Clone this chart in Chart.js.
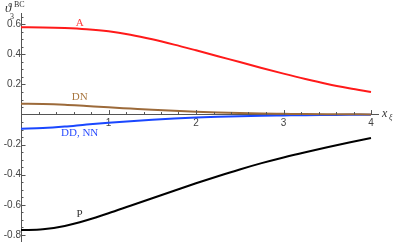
<!DOCTYPE html>
<html><head><meta charset="utf-8">
<script src="https://cdn.jsdelivr.net/npm/chart.js@4"></script>
<style>html,body{margin:0;padding:0;background:#fff;overflow:hidden}canvas{display:block}</style>
</head><body>
<canvas id="c" width="395" height="242"></canvas>
<script>
const xValues = [0,0.25,0.5,0.75,1,1.25,1.5,1.75,2,2.25,2.5,2.75,3,3.25,3.5,3.75,4];
const seriesA  = [0.580,0.579,0.575,0.567,0.553,0.530,0.500,0.465,0.427,0.388,0.349,0.310,0.272,0.236,0.203,0.175,0.150];
const seriesDN = [0.072,0.071,0.066,0.057,0.048,0.040,0.032,0.025,0.019,0.014,0.010,0.007,0.005,0.003,0.002,0.0015,0.001];
const seriesDD = [-0.094,-0.090,-0.080,-0.066,-0.054,-0.044,-0.035,-0.027,-0.020,-0.015,-0.011,-0.008,-0.006,-0.004,-0.003,-0.002,-0.0015];
const seriesP  = [-0.768,-0.762,-0.740,-0.702,-0.656,-0.606,-0.556,-0.506,-0.457,-0.410,-0.365,-0.323,-0.285,-0.250,-0.217,-0.186,-0.156];
const xTickValues = [1,2,3,4];
const yTickValues = [-0.8,-0.6,-0.4,-0.2,0.2,0.4,0.6];
const curveLabels = [
  {text:'A', x:0.67, y:0.608, color:'#ff4040'},
  {text:'DN', x:0.67, y:0.113, color:'#a8763f'},
  {text:'DD, NN', x:0.67, y:-0.126, color:'#2a4cff'},
  {text:'P', x:0.67, y:-0.66, color:'#333333'}
];

const pts = arr => xValues.map((x,i)=>({x:x,y:arr[i]}));
const ds = (arr,color) => ({data:pts(arr),borderColor:color,borderWidth:2,pointRadius:0,cubicInterpolationMode:'monotone',fill:false});

const extras = {
  id:'extras',
  afterDraw(chart){
    const ctx = chart.ctx, sx = chart.scales.x, sy = chart.scales.y;
    const x0 = sx.getPixelForValue(0), y0 = sy.getPixelForValue(0);
    ctx.save();
    ctx.strokeStyle = '#555'; ctx.lineWidth = 1;
    for (let v = 0.2; v <= 4.001; v += 0.2) {
      const major = Math.abs(v - Math.round(v)) < 1e-6;
      const px = Math.round(sx.getPixelForValue(v)) + 0.5;
      ctx.beginPath(); ctx.moveTo(px, y0); ctx.lineTo(px, y0 - (major ? 4.5 : 2.5)); ctx.stroke();
    }
    for (let k = -17; k <= 13; k++) {
      if (k === 0) continue;
      const v = k * 0.05;
      const major = k % 4 === 0;
      const py = Math.round(sy.getPixelForValue(v)) + 0.5;
      ctx.beginPath(); ctx.moveTo(x0, py); ctx.lineTo(x0 + (major ? 4.5 : 2.5), py); ctx.stroke();
    }
    ctx.font = '11px "Liberation Serif", serif';
    ctx.textAlign = 'center'; ctx.textBaseline = 'middle';
    curveLabels.forEach(l => {
      ctx.fillStyle = l.color;
      ctx.fillText(l.text, sx.getPixelForValue(l.x), sy.getPixelForValue(l.y));
    });
    ctx.fillStyle = '#333';
    ctx.textAlign = 'left'; ctx.textBaseline = 'alphabetic';
    ctx.font = 'italic 13px "Liberation Serif", serif';
    ctx.fillText('\u03D1', 5, 12);
    ctx.font = '8px "Liberation Serif", serif';
    ctx.fillText('3', 10, 19);
    ctx.fillText('BC', 14, 7);
    ctx.font = 'italic 12px "Liberation Serif", serif';
    ctx.fillText('x', 382, y0 + 2);
    ctx.font = 'italic 8px "Liberation Serif", serif';
    ctx.fillText('\u03BE', 389, y0 + 5);
    ctx.restore();
  }
};

const chart = new Chart(document.getElementById('c'), {
  type:'line',
  data:{datasets:[ds(seriesA,'#ff1a1a'),ds(seriesDN,'#9c6a3a'),ds(seriesDD,'#1a47ff'),ds(seriesP,'#000000')]},
  options:{
    responsive:false, maintainAspectRatio:false, animation:false,
    layout:{padding:{left:21,right:17,top:13,bottom:0}},
    plugins:{legend:{display:false},tooltip:{enabled:false}},
    scales:{
      x:{type:'linear',min:0,max:4.08,position:{y:0},
        afterBuildTicks:s=>{s.ticks = xTickValues.map(v=>({value:v}));},
        grid:{drawOnChartArea:false,drawTicks:false},
        border:{display:true,color:'#555',width:1},
        ticks:{padding:3,color:'#444',font:{family:'"Liberation Sans", Arial, sans-serif',size:10},maxRotation:0,callback:v=>String(v)}},
      y:{type:'linear',min:-0.847,max:0.675,position:{x:0},
        afterBuildTicks:s=>{s.ticks = yTickValues.map(v=>({value:v}));},
        grid:{drawOnChartArea:false,drawTicks:false},
        border:{display:true,color:'#555',width:1},
        ticks:{padding:4,color:'#444',font:{family:'"Liberation Sans", Arial, sans-serif',size:10},callback:v=>v.toFixed(1)}}
    }
  },
  plugins:[extras]
});
const extra = 242 - chart.chartArea.bottom;
if (extra > 0.5) chart.resize(395, Math.round(242 + extra));
</script>
</body></html>
